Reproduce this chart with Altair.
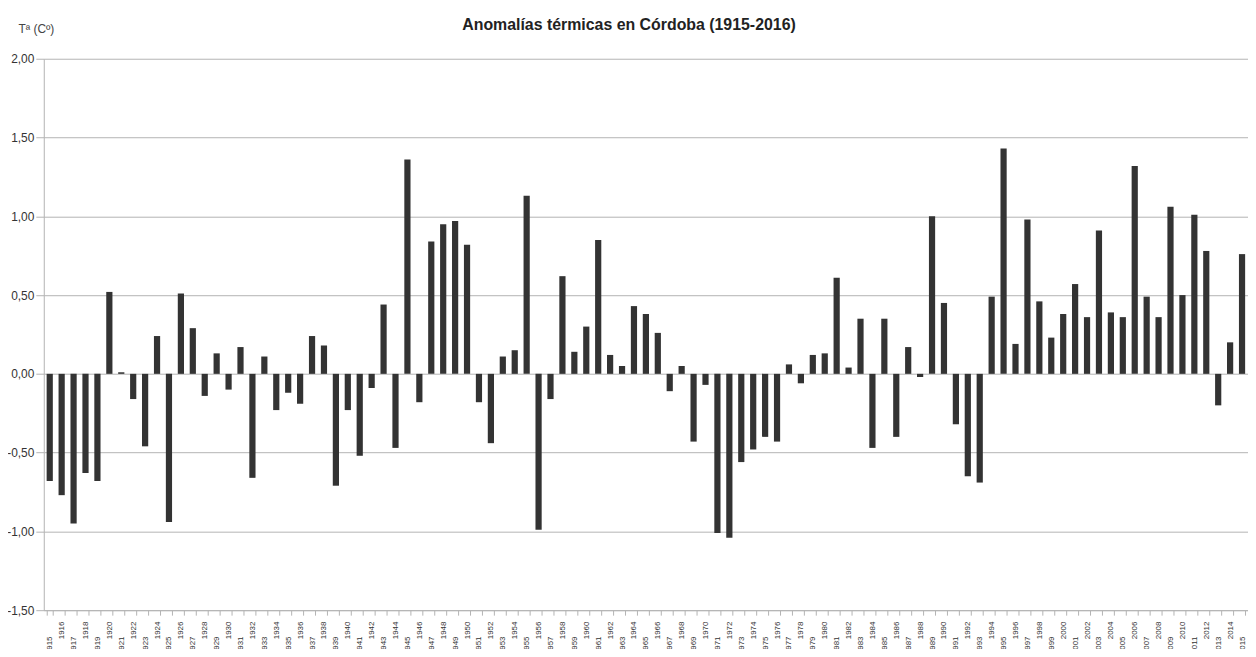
import altair as alt
import pandas as pd

years = list(range(1915, 2016))
anomalies = [
    -0.68, -0.77, -0.95, -0.63, -0.68, 0.52, 0.01, -0.16, -0.46, 0.24,   # 1915-1924
    -0.94, 0.51, 0.29, -0.14, 0.13, -0.10, 0.17, -0.66, 0.11, -0.23,    # 1925-1934
    -0.12, -0.19, 0.24, 0.18, -0.71, -0.23, -0.52, -0.09, 0.44, -0.47,  # 1935-1944
    1.36, -0.18, 0.84, 0.95, 0.97, 0.82, -0.18, -0.44, 0.11, 0.15,      # 1945-1954
    1.13, -0.99, -0.16, 0.62, 0.14, 0.30, 0.85, 0.12, 0.05, 0.43,       # 1955-1964
    0.38, 0.26, -0.11, 0.05, -0.43, -0.07, -1.01, -1.04, -0.56, -0.48,  # 1965-1974
    -0.40, -0.43, 0.06, -0.06, 0.12, 0.13, 0.61, 0.04, 0.35, -0.47,     # 1975-1984
    0.35, -0.40, 0.17, -0.02, 1.00, 0.45, -0.32, -0.65, -0.69, 0.49,    # 1985-1994
    1.43, 0.19, 0.98, 0.46, 0.23, 0.38, 0.57, 0.36, 0.91, 0.39,         # 1995-2004
    0.36, 1.32, 0.49, 0.36, 1.06, 0.50, 1.01, 0.78, -0.20, 0.20,        # 2005-2014
    0.76,                                                               # 2015
]
y_ticks = [-1.5, -1.0, -0.5, 0.0, 0.5, 1.0, 1.5, 2.0]

df = pd.DataFrame({"year": years, "anomaly": anomalies})

FONT = "Liberation Sans"

chart = alt.Chart(df).mark_bar(color="#333333").encode(
    x=alt.X(
        "year:O",
        scale=alt.Scale(paddingInner=0.48, paddingOuter=0.24),
        axis=alt.Axis(
            title=None,
            labelAngle=270,
            labelAlign="right",
            labelBaseline="middle",
            labelFont="Liberation Sans Narrow, Liberation Sans",
            labelFontSize=8,
            labelColor="#333333",
            labelExpr="datum.value % 2 == 1 ? slice(datum.label, 1) : datum.label",
            labelPadding={"condition": {"test": "datum.value % 2 == 1", "value": 21}, "value": 6},
            labelOverlap=False,
            tickBand="extent",
            tickColor="#b3b3b3",
            tickSize=5,
            domainColor="#b3b3b3",
            grid=False,
        ),
    ),
    y=alt.Y(
        "anomaly:Q",
        scale=alt.Scale(domain=[-1.5, 2.0], nice=False, zero=False),
        axis=alt.Axis(
            values=y_ticks,
            title="Tª (Cº)",
            titleAngle=0,
            titleX=-26,
            titleY=-26,
            titleAlign="left",
            titleBaseline="alphabetic",
            titleFont=FONT,
            titleFontSize=12,
            titleFontWeight="normal",
            titleColor="#444444",
            labelExpr="replace(replace(format(datum.value, '.2f'), '.', ','), '\u2212', '-')",
            labelFont=FONT,
            labelFontSize=12,
            labelColor="#333333",
            labelPadding=2,
            tickSize=8,
            tickColor="#b3b3b3",
            domainColor="#b3b3b3",
            gridColor="#b3b3b3",
            gridWidth=1,
        ),
    ),
).properties(
    width=1212,
    height=555,
    autosize=alt.AutoSizeParams(type="none"),
    padding={"left": 36, "top": 49, "right": 0, "bottom": 37},
    title=alt.TitleParams(
        "Anomalías térmicas en Córdoba (1915-2016)",
        font=FONT,
        fontSize=16,
        fontWeight="bold",
        color="#222222",
        anchor="middle",
        dx=-17,
        offset=-23,
        baseline="alphabetic",
    ),
).configure_view(stroke=None)

chart.save("out.html", embed_options={"renderer": "svg", "actions": False})
